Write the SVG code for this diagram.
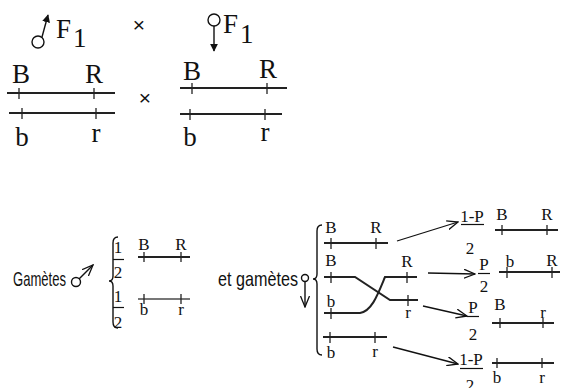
<svg xmlns="http://www.w3.org/2000/svg" width="561" height="388" viewBox="0 0 561 388">
<style>
.chr{stroke:#222;stroke-width:2;fill:none}
.chr2{stroke:#777;stroke-width:2;fill:none}
.tk{stroke:#222;stroke-width:1.3}
.big{font-family:"Liberation Serif","Times New Roman",serif;font-size:27px;fill:#111}
.sm{font-family:"Liberation Serif","Times New Roman",serif;font-size:17px;fill:#111}
.fr{font-family:"Liberation Serif","Times New Roman",serif;font-size:17px;fill:#111}
.lab{font-family:"Liberation Sans",Arial,sans-serif;font-size:21px;fill:#111}
.sym{stroke:#111;stroke-width:1.4;fill:none}
.arr{stroke:#111;stroke-width:1.3;fill:none;marker-end:url(#ah)}
.bar{stroke:#111;stroke-width:1.2}
</style>
<defs>
<marker id="ah" viewBox="0 0 12 10" refX="11" refY="5" markerWidth="12" markerHeight="10" markerUnits="userSpaceOnUse" orient="auto">
<path d="M0,0.5 L11,5 L0,9.5" fill="none" stroke="#111" stroke-width="1.3"/>
</marker>
<marker id="ahf" viewBox="0 0 10 10" refX="9" refY="5" markerWidth="8" markerHeight="8" markerUnits="userSpaceOnUse" orient="auto">
<path d="M0,0 L10,5 L0,10 z" fill="#111"/>
</marker>
</defs>
<rect width="561" height="388" fill="#fff"/>

<g id="header">
<circle class="sym" cx="38" cy="42" r="6"/>
<line class="sym" x1="42" y1="37" x2="48" y2="15" stroke-width="2" marker-end="url(#ahf)"/>
<text class="big" x="56" y="38">F</text>
<text class="big" x="73" y="47" font-size="21">1</text>
<text class="lab" x="139" y="32" text-anchor="middle" font-size="16">×</text>
<circle class="sym" cx="214" cy="20" r="6"/>
<line class="sym" x1="214" y1="26" x2="214" y2="51" marker-end="url(#ahf)"/>
<text class="big" x="223" y="33">F</text>
<text class="big" x="240" y="43" font-size="21">1</text>
</g>

<g id="parent-male">
<text class="big" x="21" y="83" text-anchor="middle">B</text>
<text class="big" x="94" y="83" text-anchor="middle">R</text>
<line class="chr" x1="7" y1="93" x2="115" y2="93"/>
<line class="tk" x1="19" y1="88" x2="19" y2="99"/>
<line class="tk" x1="94" y1="88" x2="94" y2="99"/>
<line class="chr" x1="9" y1="113" x2="115" y2="113"/>
<line class="tk" x1="22" y1="108" x2="22" y2="119"/>
<line class="tk" x1="96" y1="108" x2="96" y2="119"/>
<text class="big" x="22" y="146" text-anchor="middle">b</text>
<text class="big" x="96" y="142" text-anchor="middle">r</text>
</g>

<text class="lab" x="145" y="105" text-anchor="middle" font-size="16">×</text>

<g id="parent-female">
<text class="big" x="192" y="80" text-anchor="middle">B</text>
<text class="big" x="268" y="78" text-anchor="middle">R</text>
<line class="chr" x1="180" y1="88" x2="287" y2="88"/>
<line class="tk" x1="192" y1="83" x2="192" y2="94"/>
<line class="tk" x1="267" y1="83" x2="267" y2="94"/>
<line class="chr" x1="180" y1="114" x2="282" y2="114"/>
<line class="tk" x1="190" y1="109" x2="190" y2="120"/>
<line class="tk" x1="265" y1="109" x2="265" y2="120"/>
<text class="big" x="190" y="146" text-anchor="middle">b</text>
<text class="big" x="265" y="141" text-anchor="middle">r</text>
</g>

<g id="male-gametes">
<text class="lab" x="13" y="286" textLength="53" lengthAdjust="spacingAndGlyphs">Gamètes</text>
<circle class="sym" cx="76" cy="282" r="4.5"/>
<line class="sym" x1="79" y1="279" x2="93" y2="265" stroke-width="1.2" marker-end="url(#ah)"/>
<path class="sym" d="M118,237 Q113,237 113,243 V276 Q113,281 109,281 Q113,281 113,286 V322 Q113,328 118,328"/>
<text class="fr" x="118" y="253" text-anchor="middle">1</text>
<line class="bar" x1="113" y1="259.5" x2="124" y2="259.5"/>
<text class="fr" x="118" y="278" text-anchor="middle">2</text>
<text class="fr" x="118" y="302" text-anchor="middle">1</text>
<line class="bar" x1="113" y1="307.5" x2="124" y2="307.5"/>
<text class="fr" x="118" y="328" text-anchor="middle">2</text>
<text class="sm" x="144" y="250" text-anchor="middle">B</text>
<text class="sm" x="181" y="250" text-anchor="middle">R</text>
<line class="chr" x1="138" y1="257" x2="190" y2="257" stroke="#444"/>
<line class="tk" x1="144" y1="252" x2="144" y2="262"/>
<line class="tk" x1="181" y1="252" x2="181" y2="262"/>
<line class="chr2" x1="138" y1="299" x2="190" y2="299"/>
<line class="tk" x1="144" y1="294" x2="144" y2="304"/>
<line class="tk" x1="181" y1="294" x2="181" y2="304"/>
<text class="sm" x="144" y="315" text-anchor="middle">b</text>
<text class="sm" x="181" y="315" text-anchor="middle">r</text>
</g>

<g id="female-gametes">
<text class="lab" x="218" y="286" textLength="80" lengthAdjust="spacingAndGlyphs">et gamètes</text>
<circle class="sym" cx="305" cy="278" r="3.5"/>
<line class="sym" x1="305" y1="281.5" x2="305" y2="307" stroke-width="1.2" marker-end="url(#ah)"/>
<path class="sym" d="M322,225 Q317,225 317,231 V274 Q317,279 313,279 Q317,279 317,284 V349 Q317,355 322,355"/>
</g>

<g id="chromosome-BR">
<text class="sm" x="331" y="233" text-anchor="middle">B</text>
<text class="sm" x="376" y="233" text-anchor="middle">R</text>
<line class="chr" x1="324" y1="243" x2="388" y2="243"/>
<line class="tk" x1="331" y1="238" x2="331" y2="249"/>
<line class="tk" x1="376" y1="238" x2="376" y2="249"/>
</g>

<g id="chromosome-crossover">
<text class="sm" x="331" y="266" text-anchor="middle">B</text>
<path class="chr" d="M324,277 H355 L390,300 H418"/>
<line class="tk" x1="331" y1="272" x2="331" y2="283"/>
<line class="tk" x1="408" y1="295" x2="408" y2="306"/>
<text class="sm" x="408" y="318" text-anchor="middle">r</text>
<text class="sm" x="331" y="307" text-anchor="middle">b</text>
<path class="chr" d="M324,313 H360 C372,311 378,294 385,277 H417"/>
<line class="tk" x1="331" y1="308" x2="331" y2="319"/>
<line class="tk" x1="407" y1="272" x2="407" y2="283"/>
<text class="sm" x="407" y="267" text-anchor="middle">R</text>
</g>

<g id="chromosome-br">
<line class="chr" x1="323" y1="337" x2="387" y2="337"/>
<line class="tk" x1="330" y1="332" x2="330" y2="343"/>
<line class="tk" x1="375" y1="332" x2="375" y2="343"/>
<text class="sm" x="331" y="358" text-anchor="middle">b</text>
<text class="sm" x="375" y="357" text-anchor="middle">r</text>
</g>

<g id="connectors">
<line class="arr" x1="397" y1="241" x2="458" y2="222"/>
<line class="arr" x1="428" y1="273" x2="475" y2="274"/>
<line class="arr" x1="423" y1="306" x2="467" y2="316"/>
<line class="arr" x1="393" y1="347" x2="458" y2="364"/>
</g>

<g id="gamete-BR">
<text class="fr" x="472" y="222" text-anchor="middle">1-P</text>
<line class="bar" x1="461" y1="224.5" x2="484" y2="224.5"/>
<text class="fr" x="470" y="254" text-anchor="middle">2</text>
<text class="sm" x="502" y="220" text-anchor="middle">B</text>
<text class="sm" x="547" y="220" text-anchor="middle">R</text>
<line class="chr" x1="495" y1="230" x2="558" y2="230"/>
<line class="tk" x1="502" y1="225" x2="502" y2="235"/>
<line class="tk" x1="547" y1="225" x2="547" y2="235"/>
</g>

<g id="gamete-bR">
<text class="fr" x="484" y="270" text-anchor="middle">P</text>
<line class="bar" x1="478" y1="273.5" x2="490" y2="273.5"/>
<text class="fr" x="484" y="292" text-anchor="middle">2</text>
<text class="sm" x="510" y="267" text-anchor="middle">b</text>
<text class="sm" x="552" y="266" text-anchor="middle">R</text>
<line class="chr" x1="499" y1="272" x2="560" y2="272"/>
<line class="tk" x1="507" y1="267" x2="507" y2="278"/>
<line class="tk" x1="552" y1="267" x2="552" y2="278"/>
</g>

<g id="gamete-Br">
<text class="fr" x="473" y="313" text-anchor="middle">P</text>
<line class="bar" x1="467" y1="316.5" x2="479" y2="316.5"/>
<text class="fr" x="473" y="340" text-anchor="middle">2</text>
<text class="sm" x="500" y="310" text-anchor="middle">B</text>
<text class="sm" x="543" y="318" text-anchor="middle">r</text>
<line class="chr" x1="492" y1="323" x2="554" y2="323"/>
<line class="tk" x1="500" y1="318" x2="500" y2="328"/>
<line class="tk" x1="543" y1="318" x2="543" y2="328"/>
</g>

<g id="gamete-br">
<text class="fr" x="471" y="365" text-anchor="middle">1-P</text>
<line class="bar" x1="460" y1="368.5" x2="483" y2="368.5"/>
<text class="fr" x="470" y="391" text-anchor="middle">2</text>
<line class="chr" x1="492" y1="363" x2="554" y2="363"/>
<line class="tk" x1="497" y1="358" x2="497" y2="368"/>
<line class="tk" x1="542" y1="358" x2="542" y2="368"/>
<text class="sm" x="497" y="383" text-anchor="middle">b</text>
<text class="sm" x="542" y="383" text-anchor="middle">r</text>
</g>
</svg>
